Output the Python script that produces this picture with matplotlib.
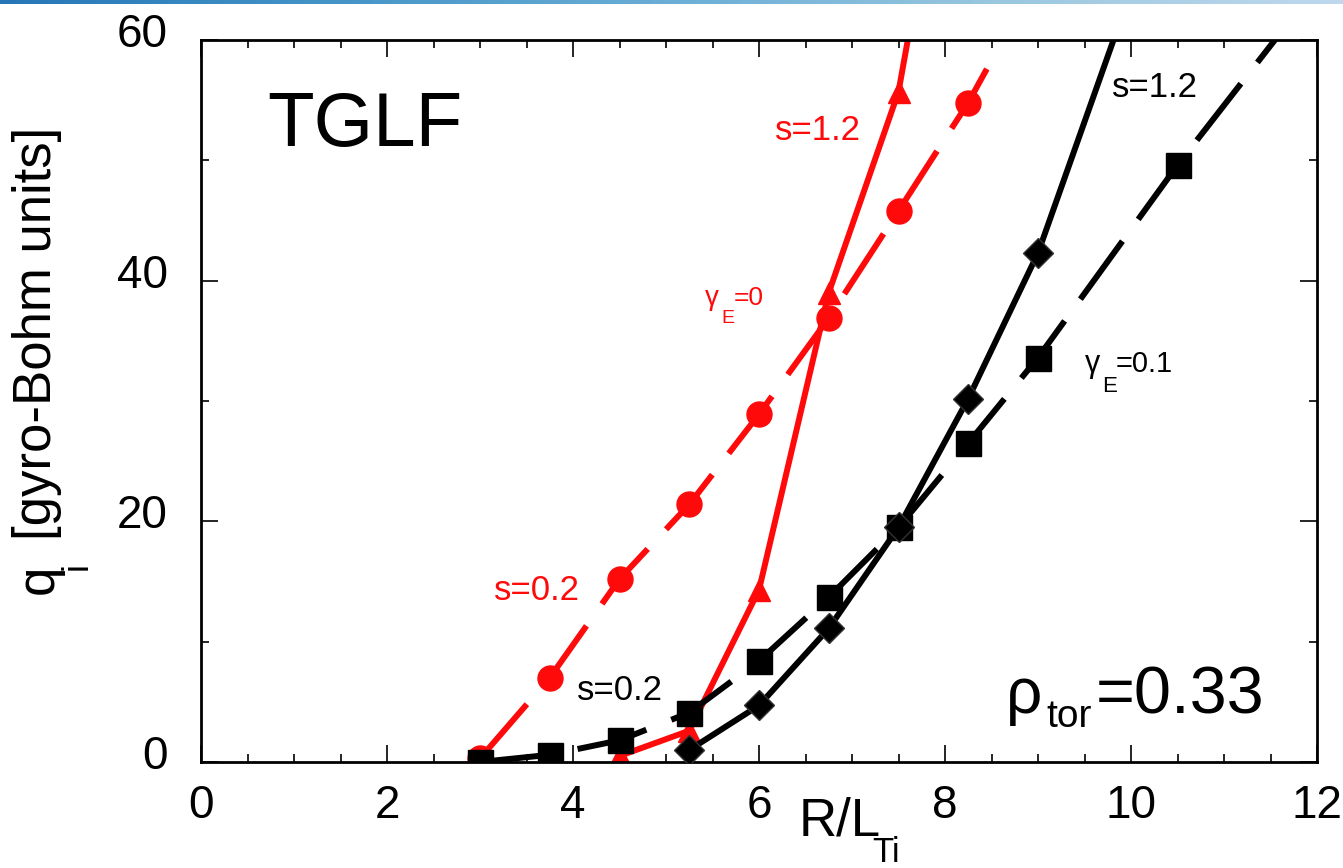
import numpy as np
import matplotlib
matplotlib.use("Agg")
import matplotlib.pyplot as plt
from matplotlib.ticker import MultipleLocator
from matplotlib.transforms import ScaledTranslation

plt.rcParams['font.family'] = ['Liberation Sans', 'DejaVu Sans']

# data
x_s02_g0 = [3.0, 3.75, 4.5, 5.25, 6.0, 6.75, 7.5, 8.25, 8.45]
q_s02_g0 = [0.3, 7.0, 15.2, 21.4, 28.9, 36.9, 45.8, 54.8, 57.6]

x_s12_g0 = [4.5, 5.25, 6.0, 6.75, 7.5, 8.25]
q_s12_g0 = [0.5, 2.6, 14.3, 39.0, 55.7, 88.0]

x_s02_g01 = [3.0, 3.75, 4.5, 5.25, 6.0, 6.75, 7.5, 8.25, 9.0, 10.5, 12.0]
q_s02_g01 = [0.0, 0.6, 1.8, 4.1, 8.4, 13.7, 19.5, 26.5, 33.6, 49.6, 64.5]

x_s12_g01 = [5.25, 6.0, 6.75, 7.5, 8.25, 9.0, 10.5]
q_s12_g01 = [1.0, 4.7, 11.1, 19.5, 30.2, 42.3, 75.0]

RED = '#ff0a0a'
LW = 4.3

fig = plt.figure(figsize=(13.43, 8.68), dpi=100)
ax = fig.add_axes([201/1343, 1-762/868, (1317-201)/1343, (762-40)/868])

# thin slide border at the top
bar = fig.add_axes([0, 1-4/868, 1, 4/868])
bar.imshow(np.linspace(0, 1, 256)[None, :], aspect='auto', cmap='Blues_r',
           vmin=-0.6, vmax=1.6, extent=[0, 1, 0, 1])
bar.axis('off')

# red, gamma_E = 0
ax.plot(x_s02_g0, q_s02_g0, color=RED, lw=LW, dashes=(12, 4.5),
        marker='o', ms=18, markevery=list(range(8)), zorder=2)
ax.plot(x_s12_g0, q_s12_g0, color=RED, lw=LW, marker='^', ms=16,
        zorder=2)
# black, gamma_E = 0.1
ax.plot(x_s02_g01, q_s02_g01, color='black', lw=LW, dashes=(12, 4.5),
        marker='s', ms=18, zorder=3)
ax.plot(x_s12_g01, q_s12_g01, color='black', lw=LW, marker='D', ms=15,
        markeredgecolor='#333333', markeredgewidth=1, zorder=3)

ax.set_xlim(0, 12)
ax.set_ylim(0, 60)
ax.xaxis.set_major_locator(MultipleLocator(2))
ax.xaxis.set_minor_locator(MultipleLocator(0.5))
ax.yaxis.set_major_locator(MultipleLocator(20))
ax.yaxis.set_minor_locator(MultipleLocator(10))
ax.tick_params(which='both', direction='in', top=True, right=True,
               width=1.2, labelsize=33)
ax.tick_params(which='major', length=12)
ax.tick_params(which='minor', length=6)
ax.tick_params(axis='x', pad=16)
ax.tick_params(axis='y', pad=24)
for sp in ax.spines.values():
    sp.set_linewidth(2)

# y labels sit a little above their ticks
off = ScaledTranslation(0, 10/100, fig.dpi_scale_trans)
for lab in ax.get_yticklabels():
    lab.set_transform(lab.get_transform() + off)

def px(x, y):
    return x/1343, 1-y/868

fig.text(*px(799, 836), 'R/L', fontsize=38, ha='left', va='baseline')
fig.text(*px(872, 862), 'Ti', fontsize=25, ha='left', va='baseline')

fig.text(*px(14, 594), 'q', fontsize=38, rotation=90, ha='left', va='bottom')
fig.text(*px(60, 570), 'i', fontsize=26, rotation=90, ha='left', va='bottom')
fig.text(*px(12, 540), '[gyro-Bohm units]', fontsize=38, rotation=90,
         ha='left', va='bottom')

fig.text(*px(267, 146), 'TGLF', fontsize=55, ha='left', va='baseline')
fig.text(*px(1006, 713), 'ρ', fontsize=46, ha='left', va='baseline')
fig.text(*px(1046, 727), 'tor', fontsize=28, ha='left', va='baseline')
fig.text(*px(1096, 713), '=0.33', fontsize=48, ha='left', va='baseline')

fig.text(*px(818, 140), 's=1.2', color=RED, fontsize=25, ha='center', va='baseline')
fig.text(*px(537, 600), 's=0.2', color=RED, fontsize=25, ha='center', va='baseline')
fig.text(*px(620, 700), 's=0.2', color='black', fontsize=25, ha='center', va='baseline')
fig.text(*px(1155, 97), 's=1.2', color='black', fontsize=25, ha='center', va='baseline')

# gamma_E labels
fig.text(*px(705, 305), 'γ', color=RED, fontsize=20, ha='left', va='baseline')
fig.text(*px(721, 323), 'E', color=RED, fontsize=14, ha='left', va='baseline')
fig.text(*px(734, 305), '=0', color=RED, fontsize=19, ha='left', va='baseline')

fig.text(*px(1085, 372), 'γ', color='black', fontsize=22, ha='left', va='baseline')
fig.text(*px(1102, 392), 'E', color='black', fontsize=16, ha='left', va='baseline')
fig.text(*px(1116, 372), '=0.1', color='black', fontsize=21, ha='left', va='baseline')

fig.savefig('out.png', dpi=100)
